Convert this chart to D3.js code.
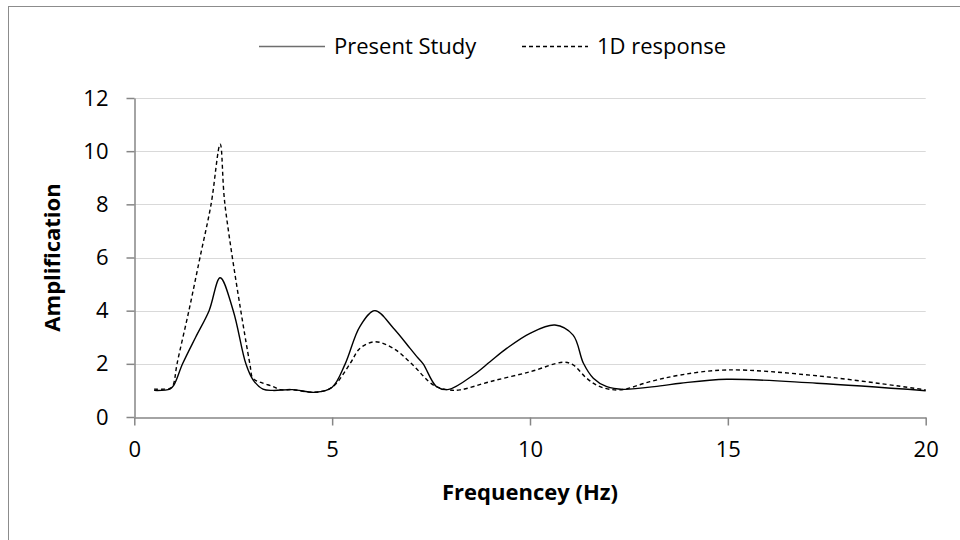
<!DOCTYPE html>
<html>
<head>
<meta charset="utf-8">
<script src="https://cdn.jsdelivr.net/npm/d3@7"></script>
<style>
  body { margin: 0; background: #fff; }
  text { font-family: "Open Sans", "Noto Sans", sans-serif; fill: #000; }
</style>
</head>
<body>
<div id="chart"></div>
<script>
// series data
var presentFreq = [0.5, 0.9, 1.0, 1.22, 1.55, 1.89, 2.17, 2.5, 2.82, 3.0, 3.25, 3.5, 4.0, 4.57, 5.0, 5.33, 5.7, 6.08, 6.55, 6.97, 7.14, 7.3, 7.64, 7.95, 8.57, 8.99, 9.41, 10.0, 10.63, 11.09, 11.35, 11.6, 11.94, 12.36, 13.29, 13.8, 14.97, 17.25, 20]
var presentAmp = [1.0, 1.05, 1.2, 2.0, 3.0, 4.0, 5.24, 4.0, 2.0, 1.4, 1.05, 1.0, 1.03, 0.93, 1.12, 2.0, 3.4, 4.0, 3.34, 2.58, 2.27, 2.0, 1.14, 1.04, 1.58, 2.08, 2.58, 3.15, 3.46, 3.08, 2.02, 1.46, 1.14, 1.04, 1.17, 1.27, 1.42, 1.27, 0.99]

var oneDFreq = [0.5, 0.9, 0.98, 1.08, 1.38, 1.66, 1.94, 2.17, 2.29, 2.92, 3.0, 3.2, 3.5, 3.7, 4.0, 4.57, 5.0, 5.45, 5.7, 6.08, 6.55, 7.01, 7.56, 7.95, 8.23, 8.99, 10.0, 10.84, 11.09, 11.43, 11.77, 12.27, 13.03, 13.8, 14.97, 17.25, 20]
var oneDAmp = [1.05, 1.08, 1.2, 2.0, 4.0, 6.0, 8.0, 10.26, 8.0, 2.0, 1.45, 1.3, 1.15, 1.03, 1.03, 0.93, 1.12, 2.0, 2.58, 2.83, 2.58, 2.0, 1.2, 1.02, 1.02, 1.33, 1.70, 2.06, 1.96, 1.46, 1.14, 1.02, 1.33, 1.58, 1.77, 1.55, 1.02]

var xTicks = [0, 5, 10, 15, 20]
var yTicks = [0, 2, 4, 6, 8, 10, 12]
var seriesNames = ["Present Study", "1D response"]

const width = 960
const height = 540
const plot = { left: 134.3, right: 925.7, top: 98, bottom: 417 }

const svg = d3.select('#chart').append('svg')
    .attr('width', width)
    .attr('height', height)

// chart border (only top and left fall inside the picture)
svg.append('rect')
    .attr('x', 8.5).attr('y', 6.5)
    .attr('width', 1000).attr('height', 600)
    .attr('fill', 'none')
    .attr('stroke', '#8c8c8c')
    .attr('stroke-width', 1)

const x = d3.scaleLinear().domain([0, 20]).range([plot.left, plot.right])
const y = d3.scaleLinear().domain([0, 12]).range([plot.bottom, plot.top])

// gridlines
svg.append('g')
    .selectAll('line')
    .data(yTicks.filter(t => t > 0))
    .join('line')
    .attr('x1', plot.left).attr('x2', plot.right)
    .attr('y1', d => Math.round(y(d)) + 0.5).attr('y2', d => Math.round(y(d)) + 0.5)
    .attr('stroke', '#d9d9d9')
    .attr('stroke-width', 1.2)

// axes
const xAxis = svg.append('g')
    .attr('transform', `translate(0,${Math.round(plot.bottom) + 0.5})`)
    .call(d3.axisBottom(x).tickValues(xTicks).tickSize(8).tickPadding(16).tickSizeOuter(0))
const yAxis = svg.append('g')
    .attr('transform', `translate(${Math.round(plot.left) + 0.5},0)`)
    .call(d3.axisLeft(y).tickValues(yTicks).tickSize(8).tickPadding(18).tickSizeOuter(0))

;[xAxis, yAxis].forEach(a => {
    a.select('.domain').attr('stroke', '#868686').attr('stroke-width', 1.5)
    a.selectAll('.tick line').attr('stroke', '#868686').attr('stroke-width', 1.5)
    a.selectAll('.tick text')
        .attr('font-family', '"Open Sans", sans-serif')
        .attr('font-size', 22)
        .attr('fill', '#000')
})

// axis titles
svg.append('text')
    .attr('x', (plot.left + plot.right) / 2)
    .attr('y', 500)
    .attr('text-anchor', 'middle')
    .attr('font-size', 22)
    .attr('font-weight', 'bold')
    .text('Frequencey (Hz)')

svg.append('text')
    .attr('transform', `translate(60,${(plot.top + plot.bottom) / 2}) rotate(-90)`)
    .attr('text-anchor', 'middle')
    .attr('font-size', 22)
    .attr('font-weight', 'bold')
    .text('Amplification')

// lines
const line = d3.line()
    .x(d => x(d[0]))
    .y(d => y(d[1]))
    .curve(d3.curveCatmullRom.alpha(0.5))

svg.append('path')
    .datum(presentFreq.map((f, i) => [f, presentAmp[i]]))
    .attr('d', line)
    .attr('fill', 'none')
    .attr('stroke', '#000')
    .attr('stroke-width', 1.4)

svg.append('path')
    .datum(oneDFreq.map((f, i) => [f, oneDAmp[i]]))
    .attr('d', line)
    .attr('fill', 'none')
    .attr('stroke', '#000')
    .attr('stroke-width', 1.4)
    .attr('stroke-dasharray', '4,3')

// legend
const legendY = 46
const legend = [
    { name: seriesNames[0], x: 259, dash: null },
    { name: seriesNames[1], x: 522, dash: '4,3' }
]
legend.forEach(l => {
    svg.append('line')
        .attr('x1', l.x).attr('x2', l.x + 66)
        .attr('y1', legendY + 0.5).attr('y2', legendY + 0.5)
        .attr('stroke', l.dash ? '#000' : '#6e6e6e')
        .attr('stroke-width', 1.4)
        .attr('stroke-dasharray', l.dash)
    svg.append('text')
        .attr('x', l.x + 75)
        .attr('y', legendY)
        .attr('dy', '0.35em')
        .attr('font-size', 22)
        .text(l.name)
})
</script>
</body>
</html>
